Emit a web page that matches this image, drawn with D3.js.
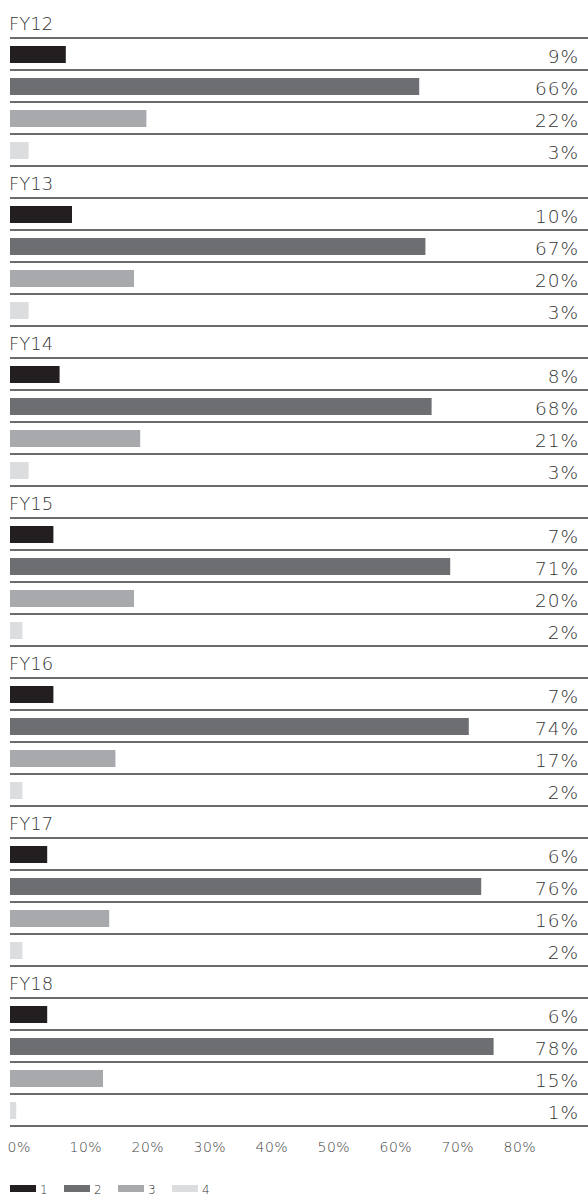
<!DOCTYPE html>
<html lang="en">
<head>
  <meta charset="UTF-8">
  <title>FY bars</title>
  <script src="https://d3js.org/d3.v7.min.js"></script>
  <style>
    body {
      margin: 0;
      background: #fff;
      font-family: "DejaVu Sans", sans-serif;
      font-weight: 200;
    }
    .rule {
      stroke: #3a3a3a;
      stroke-width: 1.5px;
    }
    .year {
      font-size: 18px;
      fill: #333;
    }
    .pct {
      font-size: 18.5px;
      letter-spacing: 1px;
      fill: #333;
    }
    .axis text {
      font-size: 14px;
      letter-spacing: 0.5px;
      fill: #444;
    }
    .legend text {
      font-size: 12px;
      fill: #333;
    }
  </style>
</head>
<body>
  <script>
    const years = ["FY12", "FY13", "FY14", "FY15", "FY16", "FY17", "FY18"];
    const series = ["1", "2", "3", "4"];
    const s1 = [9, 10, 8, 7, 7, 6, 6];
    const s2 = [66, 67, 68, 71, 74, 76, 78];
    const s3 = [22, 20, 21, 20, 17, 16, 15];
    const s4 = [3, 3, 3, 2, 2, 2, 1];
    const axisTicks = [0, 10, 20, 30, 40, 50, 60, 70, 80];
    const colors = ["#231f20", "#6d6e71", "#a7a9ac", "#dcddde"];

    const width = 588;
    const height = 1195;
    const values = [s1, s2, s3, s4];

    const svg = d3.select("body").append("svg")
      .attr("width", width).attr("height", height);

    // one band per year, each holding a header row + 4 bar rows
    const yGroup = d3.scaleBand().domain(years).range([6, 6 + 160 * years.length]);
    const yRow = d3.scaleBand().domain(["head"].concat(series)).range([0, 160]);
    const x = d3.scaleLinear().domain([0, 100]).range([10, 630]);
    const color = d3.scaleOrdinal().domain(series).range(colors);

    const groups = svg.selectAll(".group")
      .data(years)
      .enter().append("g")
      .attr("class", "group")
      .attr("transform", d => `translate(0, ${yGroup(d)})`);

    groups.append("text")
      .attr("class", "year")
      .attr("x", 9)
      .attr("y", yRow("head") + yRow.bandwidth() - 8.5)
      .text(d => d);

    // rule under every row
    groups.selectAll(".rule")
      .data(["head"].concat(series))
      .enter().append("line")
      .attr("class", "rule")
      .attr("x1", 10).attr("x2", width)
      .attr("y1", d => yRow(d) + yRow.bandwidth())
      .attr("y2", d => yRow(d) + yRow.bandwidth());

    const rows = groups.selectAll(".row")
      .data((yr, gi) => series.map((s, si) => ({s: s, v: values[si][gi]})))
      .enter().append("g")
      .attr("class", "row")
      .attr("transform", d => `translate(0, ${yRow(d.s)})`);

    rows.append("rect")
      .attr("x", x(0))
      .attr("y", 8)
      .attr("height", 17)
      .attr("width", d => x(d.v) - x(0))
      .attr("fill", d => color(d.s));

    // letter-spacing leaves a gap after the last glyph, so push x right by it
    rows.append("text")
      .attr("class", "pct")
      .attr("x", 579)
      .attr("y", yRow.bandwidth() - 7)
      .attr("text-anchor", "end")
      .text(d => d.v + "%");

    // bottom axis labels only
    const axis = svg.append("g")
      .attr("class", "axis")
      .attr("transform", "translate(0, 1152)");
    axis.selectAll("text")
      .data(axisTicks)
      .enter().append("text")
      .attr("x", d => x(d) - 2.5)
      .text(d => d + "%");

    // legend
    const legend = svg.append("g")
      .attr("class", "legend")
      .attr("transform", "translate(0, 1185)");
    const legendX = d3.scalePoint().domain(series).range([10, 172]);
    const item = legend.selectAll("g")
      .data(series)
      .enter().append("g")
      .attr("transform", d => `translate(${legendX(d)}, 0)`);
    item.append("rect")
      .attr("width", 26).attr("height", 7)
      .attr("fill", d => color(d));
    item.append("text")
      .attr("x", 30).attr("y", 8.5)
      .text(d => d);
  </script>
</body>
</html>
